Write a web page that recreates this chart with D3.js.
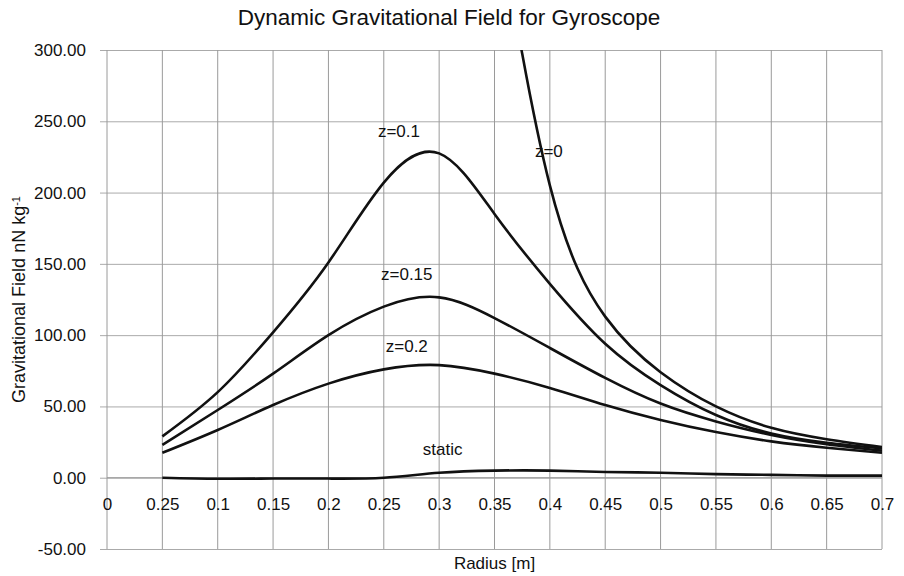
<!DOCTYPE html>
<html>
<head>
<meta charset="utf-8">
<script src="https://cdn.jsdelivr.net/npm/d3@7"></script>
<style>
  body { margin: 0; background: #fff; }
  text { font-family: "Liberation Sans", Arial, sans-serif; fill: #111; }
</style>
</head>
<body>
<div id="chart"></div>
<script>
// x categories (radius) and the labels printed under them (as in the original)
var radius = [0, 0.05, 0.1, 0.15, 0.2, 0.25, 0.3, 0.35, 0.4, 0.45, 0.5, 0.55, 0.6, 0.65, 0.7];
var radiusLabels = ["0", "0.25", "0.1", "0.15", "0.2", "0.25", "0.3", "0.35", "0.4", "0.45", "0.5", "0.55", "0.6", "0.65", "0.7"];
var yTicks = [-50, 0, 50, 100, 150, 200, 250, 300];

// series values, starting at radius 0.05
var fieldZ0   = [null, null, null, null, null, null, null, 410, 205, 113, 74, 50, 35, 27, 21.5];
var fieldZ01  = [null, 29, 60, 102, 151, 207, 227.5, 185, 136, 94, 65, 44, 31, 24.5, 20.5];
var fieldZ015 = [null, 23, 47.5, 73, 100, 120, 126.5, 112, 91, 70, 52, 39.5, 30, 23.5, 19];
var fieldZ02  = [null, 17.5, 33.5, 51, 66, 76, 79, 73, 63, 51, 40.5, 32, 25.5, 21, 17.5];
var fieldStatic = [null, 0, -0.7, -0.6, -0.6, 0, 3.5, 5, 5, 4, 3.5, 2.5, 2, 1.5, 1.5];

var seriesNames = ["z=0", "z=0.1", "z=0.15", "z=0.2", "static"];
var seriesValues = [fieldZ0, fieldZ01, fieldZ015, fieldZ02, fieldStatic];
// label anchor points in data units
var labelX = [0.3865, 0.2447, 0.2475, 0.2518, 0.2853];
var labelY = [225, 239, 139, 88, 16];

var margin = {top: 50, right: 22, bottom: 27, left: 107},
    width = 904 - margin.left - margin.right,
    height = 576 - margin.top - margin.bottom;

var svg = d3.select("#chart")
  .append("svg")
    .attr("width", 904)
    .attr("height", 576);

svg.append("text")
  .attr("x", 449)
  .attr("y", 25)
  .attr("text-anchor", "middle")
  .style("font-size", "22.5px")
  .text("Dynamic Gravitational Field for Gyroscope");

var g = svg.append("g")
  .attr("transform", "translate(" + margin.left + "," + margin.top + ")");

var x = d3.scaleLinear().domain([0, 0.7]).range([0, width]);
var y = d3.scaleLinear().domain([-50, 300]).range([height, 0]);

// horizontal grid + y labels
var yAxis = g.append("g")
  .call(d3.axisLeft(y).tickValues(yTicks).tickSize(7).tickPadding(14)
    .tickFormat(function(d) { return d.toFixed(2); }));
yAxis.select(".domain").remove();
yAxis.selectAll("text").style("font-size", "17px");
yAxis.selectAll(".tick line").attr("x2", width).attr("x1", -7).attr("stroke", "#aaa");

// vertical grid
g.append("g")
  .selectAll("line")
  .data(radius)
  .enter().append("line")
    .attr("x1", function(d) { return x(d); })
    .attr("x2", function(d) { return x(d); })
    .attr("y1", 0)
    .attr("y2", height)
    .attr("stroke", "#9a9a9a");

// x labels sitting under the zero line
var xAxis = g.append("g")
  .attr("transform", "translate(0," + y(0) + ")")
  .call(d3.axisBottom(x).tickValues(radius).tickSize(0).tickPadding(20)
    .tickFormat(function(d, i) { return radiusLabels[i]; }));
xAxis.select(".domain").remove();
xAxis.selectAll("text").style("font-size", "17px");

g.append("line")
  .attr("x1", 0).attr("x2", width)
  .attr("y1", y(0)).attr("y2", y(0))
  .attr("stroke", "#999");

// clip so z=0 leaves through the top
g.append("clipPath").attr("id", "plotclip")
  .append("rect").attr("width", width).attr("height", height);

var line = d3.line()
  .defined(function(d) { return d[1] != null; })
  .x(function(d) { return x(d[0]); })
  .y(function(d) { return y(d[1]); })
  .curve(d3.curveNatural);

seriesValues.forEach(function(vals) {
  g.append("path")
    .datum(radius.map(function(r, i) { return [r, vals[i]]; }))
    .attr("clip-path", "url(#plotclip)")
    .attr("fill", "none")
    .attr("stroke", "#111")
    .attr("stroke-width", 2.6)
    .attr("d", line);
});

seriesNames.forEach(function(name, i) {
  g.append("text")
    .attr("x", x(labelX[i]))
    .attr("y", y(labelY[i]))
    .style("font-size", "17px")
    .text(name);
});

svg.append("text")
  .attr("x", margin.left + width / 2)
  .attr("y", 569)
  .attr("text-anchor", "middle")
  .style("font-size", "17px")
  .text("Radius [m]");

var ylab = svg.append("text")
  .attr("transform", "translate(25," + (margin.top + height / 2) + ") rotate(-90)")
  .attr("text-anchor", "middle")
  .style("font-size", "18px");
ylab.append("tspan").text("Gravitational Field nN kg");
ylab.append("tspan").attr("dy", "-0.5em").style("font-size", "11px").text("-1");
</script>
</body>
</html>
